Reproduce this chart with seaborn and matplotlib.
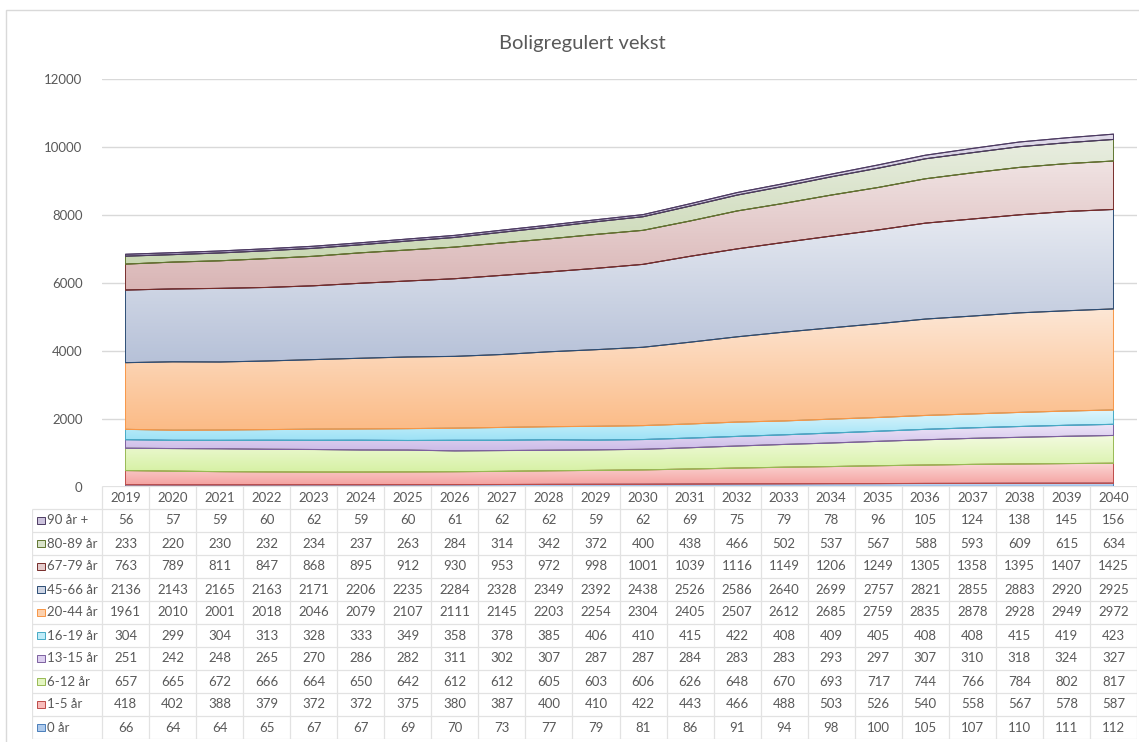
import numpy as np
import pandas as pd
import seaborn as sns
import matplotlib.pyplot as plt
from matplotlib.colors import LinearSegmentedColormap, to_rgb
from matplotlib.patches import Rectangle

# Data
years = list(range(2019, 2041))
groups = ['0 år', '1-5 år', '6-12 år', '13-15 år', '16-19 år',
          '20-44 år', '45-66 år', '67-79 år', '80-89 år', '90 år +']

age_0 = [66, 64, 64, 65, 67, 67, 69, 70, 73, 77, 79, 81, 86, 91, 94, 98, 100, 105, 107, 110, 111, 112]
age_1_5 = [418, 402, 388, 379, 372, 372, 375, 380, 387, 400, 410, 422, 443, 466, 488, 503, 526, 540, 558, 567, 578, 587]
age_6_12 = [657, 665, 672, 666, 664, 650, 642, 612, 612, 605, 603, 606, 626, 648, 670, 693, 717, 744, 766, 784, 802, 817]
age_13_15 = [251, 242, 248, 265, 270, 286, 282, 311, 302, 307, 287, 287, 284, 283, 283, 293, 297, 307, 310, 318, 324, 327]
age_16_19 = [304, 299, 304, 313, 328, 333, 349, 358, 378, 385, 406, 410, 415, 422, 408, 409, 405, 408, 408, 415, 419, 423]
age_20_44 = [1961, 2010, 2001, 2018, 2046, 2079, 2107, 2111, 2145, 2203, 2254, 2304, 2405, 2507, 2612, 2685, 2759, 2835, 2878, 2928, 2949, 2972]
age_45_66 = [2136, 2143, 2165, 2163, 2171, 2206, 2235, 2284, 2328, 2349, 2392, 2438, 2526, 2586, 2640, 2699, 2757, 2821, 2855, 2883, 2920, 2925]
age_67_79 = [763, 789, 811, 847, 868, 895, 912, 930, 953, 972, 998, 1001, 1039, 1116, 1149, 1206, 1249, 1305, 1358, 1395, 1407, 1425]
age_80_89 = [233, 220, 230, 232, 234, 237, 263, 284, 314, 342, 372, 400, 438, 466, 502, 537, 567, 588, 593, 609, 615, 634]
age_90 = [56, 57, 59, 60, 62, 59, 60, 61, 62, 62, 59, 62, 69, 75, 79, 78, 96, 105, 124, 138, 145, 156]

series = [age_0, age_1_5, age_6_12, age_13_15, age_16_19,
          age_20_44, age_45_66, age_67_79, age_80_89, age_90]

# (top of gradient, bottom of gradient, outline)
colors = {
    '0 år': ('#cfe0f5', '#8db3e2', '#4a7ebb'),
    '1-5 år': ('#fbd6d5', '#f4a2a0', '#be4b48'),
    '6-12 år': ('#f3fbe0', '#d6f1a4', '#98b954'),
    '13-15 år': ('#eee6f8', '#cbbae7', '#7d60a0'),
    '16-19 år': ('#e0f6fc', '#9de2f6', '#46aac5'),
    '20-44 år': ('#fde7d6', '#fbbb86', '#f79646'),
    '45-66 år': ('#e8ebf2', '#b6c1d8', '#2c4d75'),
    '67-79 år': ('#f0e3e3', '#d9b5b5', '#772c2a'),
    '80-89 år': ('#e9eee1', '#c8d7b2', '#5f7530'),
    '90 år +': ('#e2ddeb', '#b5aace', '#4d3b62'),
}

W, H = 1139, 742
text_color = '#595959'
grid_color = '#d9d9d9'
table_line = '#e2e2e2'

sns.set_theme(style='white')
plt.rcParams['font.family'] = ['Lato', 'DejaVu Sans']

fig = plt.figure(figsize=(W / 100, H / 100), dpi=100)
fig.patches.append(Rectangle((6 / W, -0.01), 1.1, 1 - 10 / H + 0.01,
                             transform=fig.transFigure, fill=False,
                             edgecolor=grid_color, linewidth=1))

ax = fig.add_axes([102 / W, (H - 487) / H, 1035 / W, 408 / H])
x = np.arange(len(years))
values = np.array(series, dtype=float)
cum = np.cumsum(values, axis=0)

# gradient fills clipped to each band
rows = []
for i, g in enumerate(groups):
    lower = cum[i - 1] if i > 0 else np.zeros(len(years))
    upper = cum[i]
    top_c, bot_c, edge_c = colors[g]
    poly = ax.fill_between(x, lower, upper, facecolor='none',
                           edgecolor=edge_c, linewidth=0.7, zorder=2)
    cmap = LinearSegmentedColormap.from_list(g, [bot_c, top_c])
    grad = np.linspace(0, 1, 256).reshape(-1, 1)
    im = ax.imshow(grad, cmap=cmap, aspect='auto', origin='lower',
                   extent=[x[0], x[-1], lower.min(), upper.max()], zorder=1)
    im.set_clip_path(poly.get_paths()[0], transform=ax.transData)
    for xi, lo in zip(x, lower):
        rows.append({'x': xi, 'y': lo, 'line': g})
for xi, hi in zip(x, cum[-1]):
    rows.append({'x': xi, 'y': hi, 'line': 'total'})

lines = pd.DataFrame(rows)
palette = {g: colors[g][2] for g in groups}
palette['total'] = colors['90 år +'][2]
sns.lineplot(data=lines[lines['line'] != '0 år'], x='x', y='y', hue='line',
             palette=palette, linewidth=0.8, legend=False, estimator=None,
             zorder=3, ax=ax)

ax.set_xlim(-0.5, len(years) - 0.5)
ax.set_ylim(0, 12000)
ax.set_yticks(range(0, 12001, 2000))
ax.set_yticklabels([str(v) for v in range(0, 12001, 2000)])
ax.set_xticks([])
ax.set_xlabel('')
ax.set_ylabel('')
ax.yaxis.grid(True, color=grid_color, linewidth=1)
ax.set_axisbelow(True)
for s in ax.spines.values():
    s.set_visible(False)
ax.tick_params(axis='y', length=0, pad=14, labelsize=9.5, labelcolor=text_color)

fig.text(582 / W, 1 - 44 / H, 'Boligregulert vekst', ha='center', va='center',
         fontsize=14.5, color=text_color)

# data table under the chart
col_px = 1035 / len(years)
lab_w = 70 / col_px
n_rows = len(groups) + 1
tab = fig.add_axes([32 / W, (H - 739) / H, 1105 / W, 253 / H])
tab.set_xlim(-0.5 - lab_w, len(years) - 0.5)
tab.set_ylim(n_rows, 0)
tab.axis('off')

tab.hlines(0, -0.5, len(years) - 0.5, color=table_line, linewidth=0.9)
tab.hlines(np.arange(1, n_rows + 1), -0.5 - lab_w, len(years) - 0.5,
           color=table_line, linewidth=0.9)
tab.vlines(-0.5 - lab_w, 1, n_rows, color=table_line, linewidth=0.9)
tab.vlines(np.arange(len(years) + 1) - 0.5, 0, n_rows, color=table_line, linewidth=0.9)

for k, yr in enumerate(years):
    tab.text(k, 0.5, str(yr), ha='center', va='center', fontsize=9.5, color=text_color)

key_w = 8 / col_px
for r, g in enumerate(groups[::-1], start=1):
    vals = series[groups.index(g)]
    top_c, bot_c, edge_c = colors[g]
    key_fill = tuple((a + b) / 2 for a, b in zip(to_rgb(top_c), to_rgb(bot_c)))
    tab.add_patch(Rectangle((-0.5 - lab_w + 5 / col_px, r + 0.5 - 0.17), key_w, 0.34,
                            facecolor=key_fill, edgecolor=edge_c, linewidth=0.7))
    tab.text(-0.5 - lab_w + 15 / col_px, r + 0.5, g, ha='left', va='center',
             fontsize=9.5, color=text_color)
    for k, v in enumerate(vals):
        tab.text(k, r + 0.5, str(v), ha='center', va='center',
                 fontsize=9.5, color=text_color)

fig.savefig('out.png', dpi=100)
